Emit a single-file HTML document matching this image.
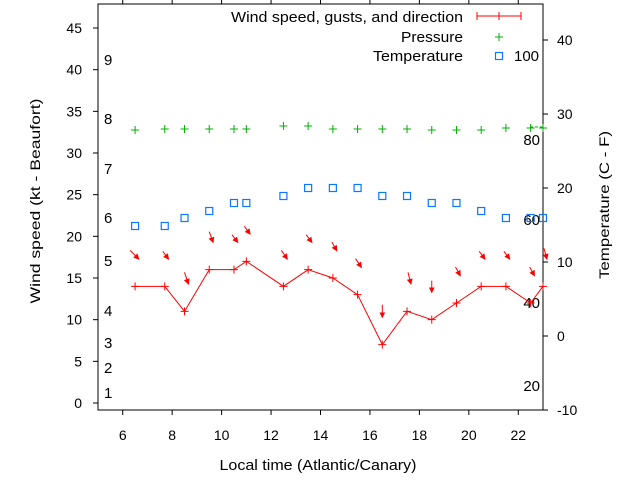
<!DOCTYPE html>
<html><head><meta charset="utf-8"><style>
html,body{margin:0;padding:0;background:#fff;}
svg{display:block;font-family:"Liberation Sans",sans-serif;}
</style></head><body>
<svg width="640" height="480" viewBox="0 0 640 480" xmlns="http://www.w3.org/2000/svg">
<defs>
<marker id="ah" viewBox="0 0 10 10" refX="9" refY="5" markerWidth="6" markerHeight="6" markerUnits="userSpaceOnUse" orient="auto"><path d="M0,0 L10,5 L0,10 z" fill="#ff0000"/></marker>
</defs>
<rect x="98" y="4" width="445" height="406" fill="none" stroke="#000" stroke-width="1"/>
<g stroke="#000" stroke-width="1" id="ticks"></g>
<g font-size="14" fill="#000" id="labels"></g>
<g id="data"></g>
<text x="40" y="201" font-size="14" text-anchor="middle" textLength="205" lengthAdjust="spacingAndGlyphs" transform="rotate(-90 40 201)">Wind speed (kt - Beaufort)</text>
<text x="609" y="205" font-size="14" text-anchor="middle" textLength="148" lengthAdjust="spacingAndGlyphs" transform="rotate(-90 609 205)">Temperature (C - F)</text>
<text x="318" y="470" font-size="15" text-anchor="middle" textLength="197" lengthAdjust="spacingAndGlyphs">Local time (Atlantic/Canary)</text>
<g font-size="15">
<text x="231" y="22" textLength="232" lengthAdjust="spacingAndGlyphs">Wind speed, gusts, and direction</text>
<text x="401" y="42" textLength="62" lengthAdjust="spacingAndGlyphs">Pressure</text>
<text x="373" y="61" textLength="90" lengthAdjust="spacingAndGlyphs">Temperature</text>
</g>
<g stroke="#ff0000" stroke-width="1"><line x1="477" y1="16" x2="521" y2="16"/><line x1="477" y1="12" x2="477" y2="20"/><line x1="521" y1="12" x2="521" y2="20"/><line x1="499" y1="12" x2="499" y2="20"/></g>
<g stroke="#00b000" stroke-width="1"><line x1="495" y1="37" x2="503" y2="37"/><line x1="499" y1="33" x2="499" y2="41"/></g>
<rect x="495.5" y="52.5" width="7" height="7" fill="none" stroke="#0a78ff" stroke-width="1.2"/>
<text x="514" y="61" font-size="15">100</text>
<line x1="530" y1="127" x2="543" y2="127" stroke="#00b000" stroke-dasharray="3,2"/>
<script>
var ns="http://www.w3.org/2000/svg";
function el(p,t,a,txt){var e=document.createElementNS(ns,t);for(var k in a)e.setAttribute(k,a[k]);if(txt!==undefined)e.textContent=txt;p.appendChild(e);return e;}
var T=document.getElementById('ticks'),L=document.getElementById('labels'),D=document.getElementById('data');
function X(t){return 98+(t-5)*445/18;}
for(var h=6;h<=22;h+=2){var x=X(h);el(T,'line',{x1:x,y1:410,x2:x,y2:415});el(T,'line',{x1:x,y1:4,x2:x,y2:-1});el(L,'text',{x:x,y:440,'text-anchor':'middle'},h);}
for(var v=0;v<=45;v+=5){var y=403-v*8.333;el(T,'line',{x1:98,y1:y,x2:93,y2:y});el(L,'text',{x:82,y:y+5,'text-anchor':'end'},v);}
for(var v=-10;v<=40;v+=10){var y=410-(v+10)*7.4;el(T,'line',{x1:543,y1:y,x2:548,y2:y});el(L,'text',{x:557,y:y+5},v);}
[[1,398],[2,373],[3,348],[4,316],[5,266],[6,223],[7,174],[8,124],[9,65]].forEach(function(b){el(L,'text',{x:104,y:b[1],'font-size':15},b[0]);});
[[80,145],[60,225],[40,308],[20,391]].forEach(function(b){el(L,'text',{x:540,y:b[1],'text-anchor':'end','font-size':15},b[0]);});
var t=[6.5,7.7,8.5,9.5,10.5,11,12.5,13.5,14.5,15.5,16.5,17.5,18.5,19.5,20.5,21.5,22.5,23];
var w=[14,14,11,16,16,17,14,16,15,13,7,11,10,12,14,14,12,14];
var p=[130,129,129,129,129,129,126,126,129,129,129,129,130,130,130,128,128,128];
var tc=[226,226,218,211,203,203,196,188,188,188,196,196,203,203,211,218,218,218];
var ad=[[9,9],[6,8],[4,12],[4,11],[6,8],[6,8],[6,9],[6,8],[5,9],[6,9],[0,13],[3,12],[0,12],[5,9],[6,8],[6,8],[5,9],[3,11]];
var pts=t.map(function(tt,i){return X(tt)+','+(403-w[i]*8.333);}).join(' ');
el(D,'polyline',{points:pts,fill:'none',stroke:'#ff0000','stroke-width':1});
t.forEach(function(tt,i){var x=X(tt),y=403-w[i]*8.333;
el(D,'path',{d:'M'+(x-4)+','+y+'h8M'+x+','+(y-4)+'v8',stroke:'#ff0000','stroke-width':1});
var hx=x+(ad[i][0]>0?4:0),hy=y-27;
el(D,'line',{x1:hx-ad[i][0],y1:hy-ad[i][1],x2:hx,y2:hy,stroke:'#ff0000','stroke-width':1,'marker-end':'url(#ah)'});
var py=p[i];el(D,'path',{d:'M'+(x-4)+','+py+'h8M'+x+','+(py-4)+'v8',stroke:'#00b000','stroke-width':1});
el(D,'rect',{x:x-3.5,y:tc[i]-3.5,width:7,height:7,fill:'none',stroke:'#0a78ff','stroke-width':1.2});
});
</script>
</svg>
</body></html>
